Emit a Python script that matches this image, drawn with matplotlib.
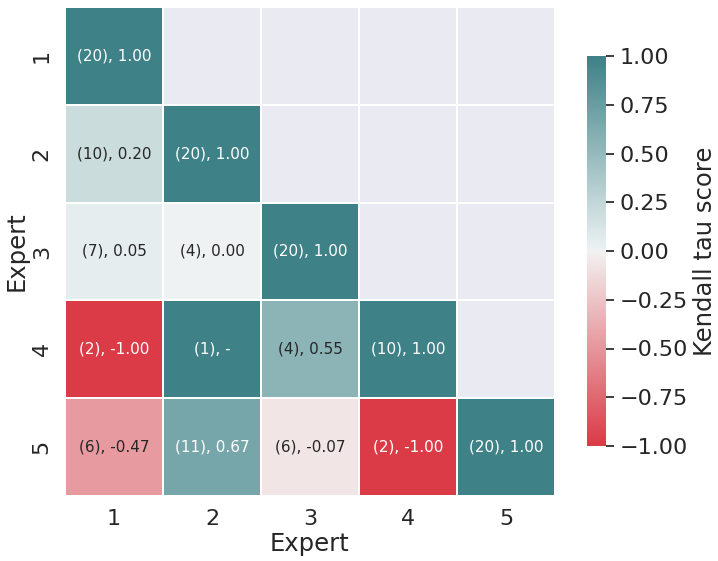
import numpy as np
import matplotlib
matplotlib.use('Agg')
import matplotlib.pyplot as plt
import seaborn as sns

experts = ['1', '2', '3', '4', '5']
# kendall tau between experts (lower triangle), count of common items
tau = np.array([
    [1.00, np.nan, np.nan, np.nan, np.nan],
    [0.20, 1.00, np.nan, np.nan, np.nan],
    [0.05, 0.00, 1.00, np.nan, np.nan],
    [-1.00, 1.00, 0.55, 1.00, np.nan],
    [-0.47, 0.67, -0.07, -1.00, 1.00],
])
counts = np.array([
    [20, 0, 0, 0, 0],
    [10, 20, 0, 0, 0],
    [7, 4, 20, 0, 0],
    [2, 1, 4, 10, 0],
    [6, 11, 6, 2, 20],
])
undefined = [(3, 1)]
cbar_ticks = [-1, -0.75, -0.5, -0.25, 0, 0.25, 0.5, 0.75, 1]

labels = np.empty(tau.shape, dtype=object)
for i in range(5):
    for j in range(5):
        if j > i:
            labels[i, j] = ''
        elif (i, j) in undefined:
            labels[i, j] = '(%d), -' % counts[i, j]
        else:
            labels[i, j] = '(%d), %.2f' % (counts[i, j], tau[i, j])

sns.set_theme(style='dark', font_scale=1.5)

mask = np.triu(np.ones_like(tau, dtype=bool), k=1)
cmap = sns.diverging_palette(10, 200, as_cmap=True)

fig = plt.figure(figsize=(7.18, 5.61), dpi=100)
W, H = 718, 561
ax = fig.add_axes([65 / W, (H - 496) / H, 490 / W, 489 / H])
cax = fig.add_axes([587 / W, (H - 446) / H, 19 / W, 390 / H])
sns.heatmap(tau, mask=mask, cmap=cmap, vmin=-1, vmax=1, center=0,
            annot=labels, fmt='', annot_kws={'size': 11},
            linewidths=1.2, ax=ax, cbar_ax=cax,
            xticklabels=experts, yticklabels=experts,
            cbar_kws={'label': 'Kendall tau score', 'ticks': cbar_ticks})
cax.yaxis.set_major_formatter(matplotlib.ticker.FuncFormatter(
    lambda v, p: ('%.2f' % v).replace('-', '\u2212')))
ax.set_xlabel('Expert', fontsize=17.5, labelpad=2)
ax.set_ylabel('Expert', fontsize=17.5, labelpad=2)
ax.tick_params(labelsize=16)
cax.tick_params(labelsize=16)
cax.yaxis.label.set_size(17.5)

plt.savefig('out.png', dpi=100)
